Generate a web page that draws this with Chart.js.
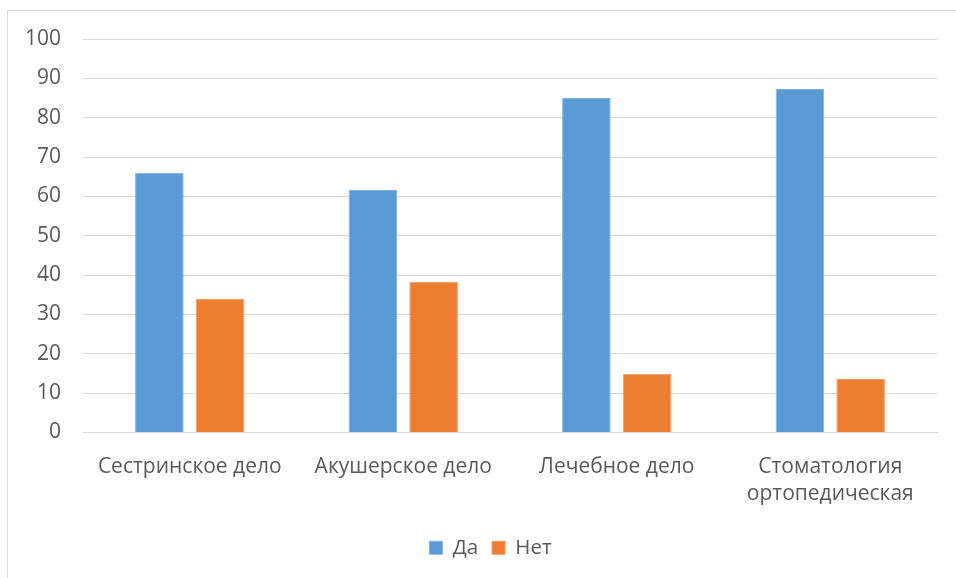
<!DOCTYPE html>
<html><head><meta charset="utf-8">
<script src="https://cdn.jsdelivr.net/npm/chart.js@4/dist/chart.umd.min.js"></script>
<style>html,body{margin:0;padding:0;background:#fff;overflow:hidden}#wrap{width:956px;height:578px;position:relative}</style>
</head><body><div id="wrap"><canvas id="c" width="956" height="578"></canvas></div>
<script>
const categories = [["Сестринское дело"], ["Акушерское дело"], ["Лечебное дело"], ["Стоматология", "ортопедическая"]];
const seriesNames = ["Да", "Нет"];
const yesValues = [66, 61.6, 85, 87.3];
const noValues = [34, 38.3, 14.9, 13.6];
const yTicks = [0, 10, 20, 30, 40, 50, 60, 70, 80, 90, 100];

const FONT = "'Open Sans', sans-serif";
const TXT = '#595959';

const borderPlugin = {
  id: 'outerBorder',
  beforeDraw(chart) {
    const ctx = chart.ctx;
    ctx.save();
    ctx.fillStyle = '#fff';
    ctx.fillRect(0, 0, chart.width, chart.height);
    ctx.strokeStyle = '#d9d9d9';
    ctx.lineWidth = 1;
    ctx.strokeRect(7.5, 10.5, 2000, 2000);
    ctx.restore();
  },
  afterLayout(chart) {
    if (chart.legend) { chart.legend.left += 22; chart.legend.right += 22; }
  }
};

new Chart(document.getElementById('c'), {
  type: 'bar',
  data: {
    labels: categories,
    datasets: [
      { label: seriesNames[0], data: yesValues, backgroundColor: '#5B9BD5', borderColor: '#7fb1e0', borderWidth: 1,
        categoryPercentage: 0.569, barPercentage: 0.8 },
      { label: seriesNames[1], data: noValues, backgroundColor: '#ED7D31', borderColor: '#f29a5e', borderWidth: 1,
        categoryPercentage: 0.569, barPercentage: 0.8 }
    ]
  },
  options: {
    responsive: false,
    animation: false,
    layout: { padding: { top: 39, right: 19, left: 0, bottom: 10 } },
    plugins: {
      tooltip: { enabled: false },
      legend: {
        position: 'bottom',
        labels: {
          color: TXT,
          font: { family: FONT, size: 20.5 },
          boxWidth: 13, boxHeight: 13,
          padding: 14
        }
      }
    },
    scales: {
      x: {
        grid: { display: false },
        border: { display: true, color: '#d9d9d9', width: 1 },
        ticks: { color: TXT, font: { family: FONT, size: 21, lineHeight: 1.3 }, padding: 13, maxRotation: 0, autoSkip: false },
        afterFit(s) { s.height = 91; }
      },
      y: {
        min: 0, max: 100,
        afterBuildTicks(s) { s.ticks = yTicks.map(v => ({ value: v })); },
        grid: { color: '#d9d9d9', lineWidth: 1, drawTicks: false },
        border: { display: false },
        ticks: { color: TXT, font: { family: FONT, size: 21 }, padding: 22 },
        afterFit(s) { s.width = 83; }
      }
    }
  },
  plugins: [borderPlugin]
});
</script></body></html>
